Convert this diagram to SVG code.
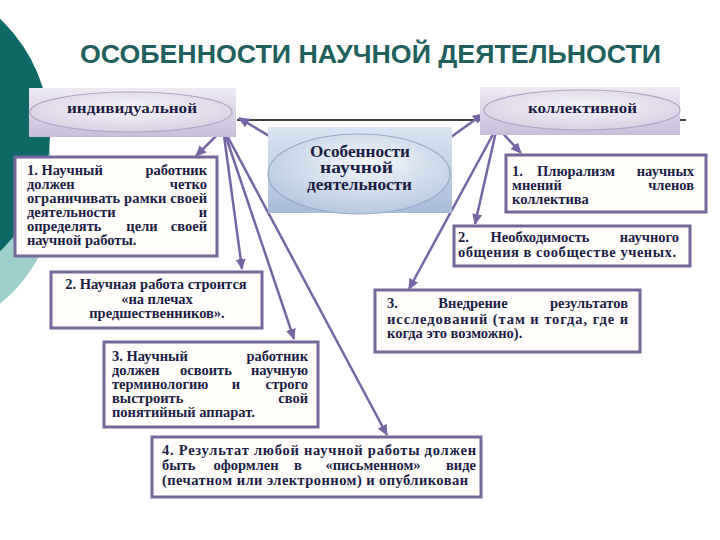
<svg xmlns="http://www.w3.org/2000/svg" width="720" height="540" viewBox="0 0 720 540">
<defs>
<style>
.t{font-family:"Liberation Serif","Times New Roman",serif;font-weight:bold;font-size:14.5px;fill:#1b1d45}
.m{text-anchor:middle}
.e{text-anchor:end}
.box{fill:#fffefa;stroke:#76679a;stroke-width:3}
.c{stroke:#7565a5;stroke-width:2.5;fill:none;marker-end:url(#ah)}
.hd{font-family:"Liberation Serif","Times New Roman",serif;font-weight:bold;fill:#1b1d45}
</style>
<marker id="ah" markerUnits="userSpaceOnUse" markerWidth="12" markerHeight="10" refX="10" refY="5" orient="auto">
<path d="M0,0 L11,5 L0,10 z" fill="#7565a5"/>
</marker>
<linearGradient id="lav" x1="0" y1="0" x2="0" y2="1">
<stop offset="0" stop-color="#efebf5"/>
<stop offset="1" stop-color="#c8bdd9"/>
</linearGradient>
<radialGradient id="lavE" cx="0.5" cy="0.4" r="0.6">
<stop offset="0" stop-color="#f7f5fa"/>
<stop offset="1" stop-color="#d9d1e5"/>
</radialGradient>
<linearGradient id="blu" x1="0" y1="0" x2="0" y2="1">
<stop offset="0" stop-color="#dae5f2"/>
<stop offset="1" stop-color="#a7bcd9"/>
</linearGradient>
<radialGradient id="bluE" cx="0.55" cy="0.35" r="0.65">
<stop offset="0" stop-color="#f4f7fb"/>
<stop offset="1" stop-color="#b6c9e1"/>
</radialGradient>
</defs>
<rect width="720" height="540" fill="#ffffff"/>
<g id="decor">
<circle cx="-90" cy="190" r="145" fill="#9fcfcb"/>
<circle cx="-110" cy="135" r="160" fill="#0e6966"/>
</g>
<text x="80" y="63" font-family="Liberation Sans, Arial, sans-serif" font-weight="bold" font-size="25" fill="#1f5f5e" textLength="581" lengthAdjust="spacingAndGlyphs">ОСОБЕННОСТИ НАУЧНОЙ ДЕЯТЕЛЬНОСТИ</text>
<line x1="237" y1="120" x2="686" y2="120" stroke="#000" stroke-width="1.3"/>
<g id="connectors">
<line class="c" x1="281" y1="143" x2="239" y2="118"/>
<line class="c" x1="440" y1="145" x2="483" y2="114"/>
<line class="c" x1="222" y1="130" x2="196" y2="156"/>
<line class="c" x1="223" y1="128" x2="242" y2="269"/>
<line class="c" x1="223" y1="128" x2="294" y2="339"/>
<line class="c" x1="223" y1="128" x2="387" y2="435"/>
<line class="c" x1="497" y1="127" x2="521" y2="153"/>
<line class="c" x1="497" y1="127" x2="475" y2="224"/>
<line class="c" x1="497" y1="127" x2="409" y2="289"/>
</g>
<g id="individ">
<rect x="29" y="88" width="207" height="49" fill="url(#lav)"/>
<ellipse cx="131" cy="112" rx="101" ry="20" fill="url(#lavE)" stroke="#b0a6c4" stroke-width="1.2"/>
<text class="hd" x="67" y="113" font-size="14.5" textLength="130" lengthAdjust="spacingAndGlyphs">индивидуальной</text>
</g>
<g id="collective">
<rect x="480" y="87" width="200" height="48" fill="url(#lav)"/>
<ellipse cx="582" cy="110" rx="98" ry="20" fill="url(#lavE)" stroke="#b0a6c4" stroke-width="1.2"/>
<text class="hd" x="528" y="113" font-size="14.5" textLength="109" lengthAdjust="spacingAndGlyphs">коллективной</text>
</g>
<g id="center">
<rect x="268" y="127" width="184" height="86" fill="url(#blu)"/>
<ellipse cx="359" cy="174" rx="91" ry="40" fill="url(#bluE)" stroke="#97a8c4" stroke-width="1.2"/>
<text class="hd" x="310" y="157" font-size="17" textLength="100" lengthAdjust="spacingAndGlyphs">Особенности</text>
<text class="hd" x="320" y="173" font-size="17" textLength="73" lengthAdjust="spacingAndGlyphs">научной</text>
<text class="hd" x="307" y="190" font-size="17" textLength="105" lengthAdjust="spacingAndGlyphs">деятельности</text>
</g>
<g id="left1">
<rect class="box" x="15" y="157" width="202" height="99"/>
<text class="t" x="27" y="175">1. Научный</text><text class="t e" x="207" y="175">работник</text>
<text class="t" x="27" y="189">должен</text><text class="t e" x="207" y="189">четко</text>
<text class="t" x="27" y="203" textLength="180" lengthAdjust="spacing">ограничивать рамки своей</text>
<text class="t" x="27" y="217">деятельности</text><text class="t e" x="207" y="217">и</text>
<text class="t" x="27" y="231">определять</text><text class="t m" x="142" y="231">цели</text><text class="t e" x="207" y="231">своей</text>
<text class="t" x="27" y="245">научной работы.</text>
</g>
<g id="left2">
<rect class="box" x="51" y="272" width="211" height="56"/>
<text class="t m" x="156" y="289">2. Научная работа строится</text>
<text class="t m" x="157" y="304">«на плечах</text>
<text class="t m" x="157" y="318">предшественников».</text>
</g>
<g id="left3">
<rect class="box" x="104" y="342" width="214" height="85"/>
<text class="t" x="112" y="361">3. Научный</text><text class="t e" x="308" y="361">работник</text>
<text class="t" x="112" y="375">должен</text><text class="t m" x="206" y="375">освоить</text><text class="t e" x="308" y="375">научную</text>
<text class="t" x="112" y="389">терминологию</text><text class="t m" x="236" y="389">и</text><text class="t e" x="308" y="389">строго</text>
<text class="t" x="112" y="403">выстроить</text><text class="t e" x="308" y="403">свой</text>
<text class="t" x="112" y="417">понятийный аппарат.</text>
</g>
<g id="left4">
<rect class="box" x="152" y="437" width="329" height="60"/>
<text class="t" x="162" y="455" textLength="314" lengthAdjust="spacing">4. Результат любой научной работы должен</text>
<text class="t" x="162" y="470">быть</text><text class="t m" x="246" y="470">оформлен</text><text class="t m" x="298" y="470">в</text><text class="t m" x="373" y="470">«письменном»</text><text class="t e" x="476" y="470">виде</text>
<text class="t" x="162" y="485" textLength="306" lengthAdjust="spacing">(печатном или электронном) и опубликован</text>
</g>
<g id="right1">
<rect class="box" x="506" y="155" width="200" height="57"/>
<text class="t" x="512" y="176">1.</text><text class="t m" x="576" y="176">Плюрализм</text><text class="t e" x="694" y="176">научных</text>
<text class="t" x="512" y="190">мнений</text><text class="t e" x="694" y="190">членов</text>
<text class="t" x="512" y="204">коллектива</text>
</g>
<g id="right2">
<rect class="box" x="454" y="226" width="236" height="40"/>
<text class="t" x="458" y="242">2.</text><text class="t m" x="540" y="242">Необходимость</text><text class="t e" x="679" y="242">научного</text>
<text class="t" x="458" y="257" textLength="218" lengthAdjust="spacing">общения в сообществе ученых.</text>
</g>
<g id="right3">
<rect class="box" x="375" y="290" width="265" height="62"/>
<text class="t" x="387" y="308">3.</text><text class="t m" x="473" y="308">Внедрение</text><text class="t e" x="628" y="308">результатов</text>
<text class="t" x="387" y="324" textLength="241" lengthAdjust="spacing">исследований (там и тогда, где и</text>
<text class="t" x="387" y="338">когда это возможно).</text>
</g>
</svg>
